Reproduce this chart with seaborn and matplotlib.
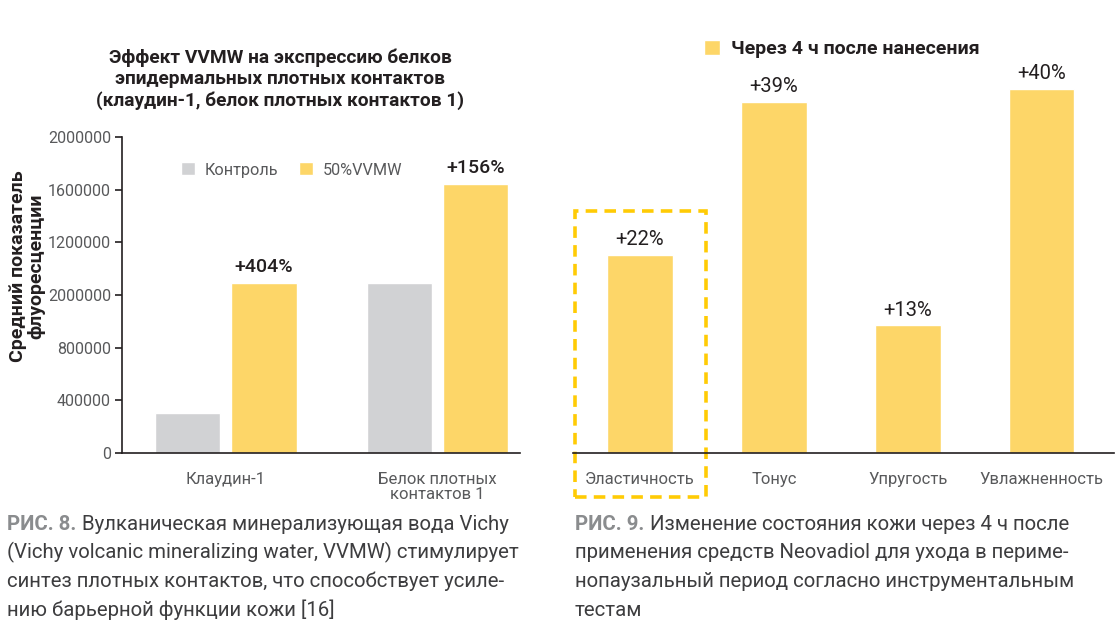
import matplotlib
matplotlib.use('Agg')
import matplotlib.pyplot as plt
import matplotlib.patches as patches
import seaborn as sns
import pandas as pd

# --- Fig. 8 data (left) ---
proteins = ['Клаудин-1', 'Белок плотных\nконтактов 1']
groups = ['Контроль', '50%VVMW']
control_values = [304000, 1290000]
vvmw_values = [1290000, 2040000]
vvmw_labels = ['+404%', '+156%']
left_ticks = [0, 400000, 800000, 1200000, 1600000, 2000000, 2400000]
left_tick_labels = ['0', '400000', '800000', '2000000', '1200000', '1600000', '2000000']

# --- Fig. 9 data (right) ---
skin_params = ['Эластичность', 'Тонус', 'Упругость', 'Увлажненность']
skin_values = [22.0, 39.0, 14.2, 40.5]
skin_labels = ['+22%', '+39%', '+13%', '+40%']

GRAY = '#D1D2D4'
YELLOW = '#FDD668'
DASH = '#FFCB05'
DARK = '#231F20'
TICK = '#58595B'
CAP_GRAY = '#8A8C8E'
CAP_TEXT = '#3D3D3F'

sns.set_theme(style='white')
plt.rcParams['font.family'] = ['Roboto', 'DejaVu Sans']

fig = plt.figure(figsize=(11.19, 6.24), dpi=100)
W, H = 1119, 624


def px_axes(x0, y0, x1, y1):
    # pixel box (top-left origin) -> figure axes
    return fig.add_axes([x0 / W, (H - y1) / H, (x1 - x0) / W, (y1 - y0) / H])


# ---------------- left chart ----------------
ax1 = px_axes(122, 137, 520, 453)
df = pd.DataFrame({
    'protein': proteins * 2,
    'group': [groups[0]] * 2 + [groups[1]] * 2,
    'value': control_values + vvmw_values,
})
sns.barplot(data=df, x='protein', y='value', hue='group', palette=[GRAY, YELLOW],
            width=0.72, gap=0.14, saturation=1, ax=ax1)
ax1.set_xlim(-0.49, 1.39)
ax1.set_ylim(0, 2400000)
ax1.set_yticks(left_ticks)
ax1.set_yticklabels(left_tick_labels)
ax1.set_xlabel('')
ax1.set_ylabel('')
for s in ['top', 'right']:
    ax1.spines[s].set_visible(False)
for s in ['left', 'bottom']:
    ax1.spines[s].set_color(DARK)
    ax1.spines[s].set_linewidth(1.2)
ax1.tick_params(axis='y', left=True, length=5, width=1.2, color=DARK,
                labelsize=11.5, labelcolor=TICK, pad=3)
ax1.tick_params(axis='x', bottom=False, labelsize=12, labelcolor=TICK, pad=8)
for lab in ax1.get_xticklabels():
    lab.set_linespacing(1.0)
ax1.bar_label(ax1.containers[1], labels=vvmw_labels, padding=5,
              fontsize=14, fontweight='medium', color=DARK)
ax1.legend(loc='center left', bbox_to_anchor=(181 / W, (H - 170) / H),
           bbox_transform=fig.transFigure, ncol=2, frameon=False,
           fontsize=11.7, handlelength=0.85, handleheight=0.85, handletextpad=0.6,
           columnspacing=1.3, labelcolor=TICK, borderaxespad=0, borderpad=0)

fig.text(27 / W, (H - 266) / H, 'Средний показатель\nфлуоресценции',
         rotation=90, ha='center', va='center', fontsize=14, fontweight='bold',
         color=DARK, linespacing=1.05)

fig.text(280 / W, (H - 79) / H,
         'Эффект VVMW на экспрессию белков\nэпидермальных плотных контактов\n(клаудин-1, белок плотных контактов 1)',
         ha='center', va='center', fontsize=13.8, fontweight='bold', color=DARK,
         linespacing=1.22)

# ---------------- right chart ----------------
ax2 = px_axes(573, 53, 1114, 453)
sns.barplot(x=skin_params, y=skin_values, color=YELLOW, width=0.49, saturation=1,
            ax=ax2, label='Через 4 ч после нанесения')
ax2.set_xlim(-0.5, 3.54)
ax2.set_ylim(0, 400 / 9)
ax2.set_yticks([])
for s in ['top', 'right', 'left']:
    ax2.spines[s].set_visible(False)
ax2.spines['bottom'].set_color(DARK)
ax2.spines['bottom'].set_linewidth(1.2)
ax2.tick_params(axis='x', bottom=False, labelsize=12, labelcolor=TICK, pad=8)
ax2.bar_label(ax2.containers[0], labels=skin_labels, padding=4,
              fontsize=14.5, color=DARK)
ax2.legend(loc='center left', bbox_to_anchor=(704 / W, (H - 49) / H),
           bbox_transform=fig.transFigure, frameon=False,
           prop={'size': 14, 'weight': 'bold'}, labelcolor=DARK,
           handlelength=0.8, handleheight=0.8, handletextpad=0.6,
           borderaxespad=0, borderpad=0)

# dashed highlight around the first category
hl = 0
box = patches.Rectangle((hl - 0.485, -44 / 9), 0.975, skin_values[hl] + 88 / 9,
                        fill=False, edgecolor=DASH, linewidth=2.6,
                        linestyle=(0, (3.2, 2.0)), clip_on=False)
ax2.add_patch(box)

# ---------------- captions ----------------
left_caption = ['Вулканическая минерализующая вода Vichy',
                '(Vichy volcanic mineralizing water, VVMW) стимулирует',
                'синтез плотных контактов, что способствует усиле-',
                'нию барьерной функции кожи [16]']
right_caption = ['Изменение состояния кожи через 4 ч после',
                 'применения средств Neovadiol для ухода в периме-',
                 'нопаузальный период согласно инструментальным',
                 'тестам']

fig.canvas.draw()
renderer = fig.canvas.get_renderer()


def caption(x0, y0, head, lines):
    cap_size = 14.7
    t = fig.text(x0 / W, (H - y0) / H, head, fontsize=cap_size, fontweight='bold',
                 color=CAP_GRAY, va='center', ha='left')
    bb = t.get_window_extent(renderer)
    fig.text((bb.x1 + 6) / W, (H - y0) / H, lines[0], fontsize=cap_size,
             color=CAP_TEXT, va='center', ha='left')
    for i, line in enumerate(lines[1:], start=1):
        fig.text(x0 / W, (H - y0 - 28.7 * i) / H, line, fontsize=cap_size,
                 color=CAP_TEXT, va='center', ha='left')


caption(7, 524, 'РИС. 8.', left_caption)
caption(575, 524, 'РИС. 9.', right_caption)

fig.savefig('out.png', dpi=100, facecolor='white')
